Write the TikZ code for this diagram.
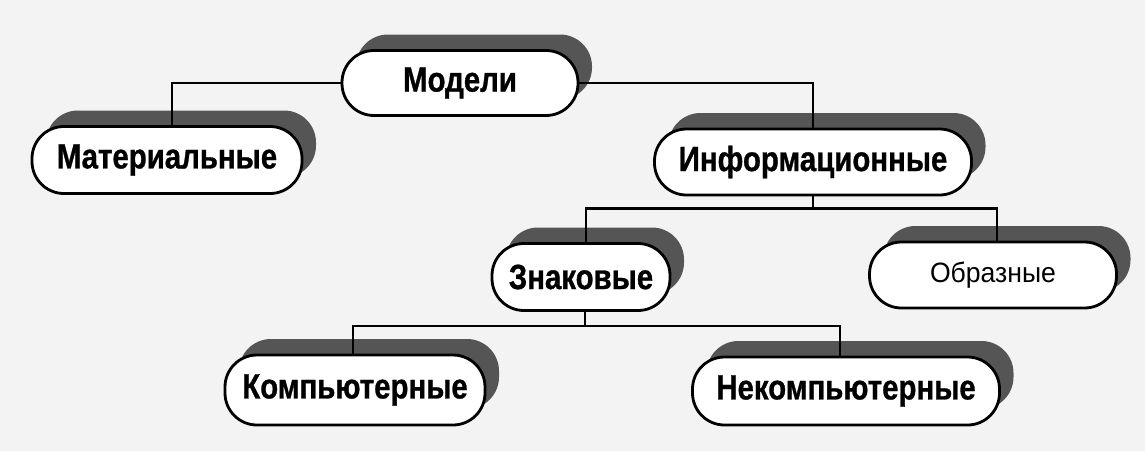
\documentclass[tikz,border=0pt]{standalone}
\usepackage{fontspec}
\setmainfont{Liberation Sans}
\newfontfamily\boxfont[FakeStretch=0.84,FakeBold=0.8]{Liberation Sans}
\newfontfamily\plainfont[FakeStretch=0.95]{Liberation Sans}
\usetikzlibrary{shadows,calc}
\definecolor{paper}{RGB}{243,243,243}
\definecolor{shade}{RGB}{85,85,85}
\tikzset{
  pill/.style={draw=black, line width=2.8pt, fill=white, rounded corners=32pt,
    inner sep=0pt, font=\boxfont\bfseries\fontsize{35}{40}\selectfont,
    general shadow={fill=shade, shadow xshift=14pt, shadow yshift=16pt}},
  plain/.style={font=\plainfont\mdseries\fontsize{28}{32}\selectfont},
  conn/.style={draw=black, line width=2.2pt}
}
\begin{document}
\begin{tikzpicture}[x=1pt,y=-1pt]
\fill[paper] (0,0) rectangle (1145,451);
\useasboundingbox (0,0) rectangle (1145,451);
\node[pill, minimum width=236pt, minimum height=65pt] (modeli) at (460,83) {Модели};
\node[pill, minimum width=270pt, minimum height=67pt] (mater) at (167,160) {Материальные};
\node[pill, minimum width=317pt, minimum height=66pt] (inform) at (813,162) {Информационные};
\node[pill, minimum width=178pt, minimum height=67pt] (znak) at (581,277) {Знаковые};
\node[pill, plain, minimum width=247pt, minimum height=66pt] (obraz) at (993,275) {Образные};
\node[pill, minimum width=260pt, minimum height=70pt] (komp) at (355,390) {Компьютерные};
\node[pill, minimum width=307pt, minimum height=68pt] (nekomp) at (846,391) {Некомпьютерные};
\coordinate (j1) at ($(inform.south)+(0,12)$);
\coordinate (j2) at ($(znak.south)+(4,14)$);
\draw[conn] (modeli.west) -| ([xshift=5pt]mater.north);
\draw[conn] (modeli.east) -| (inform.north);
\draw[conn] (inform.south) -- (j1);
\draw[conn] ([xshift=5pt]znak.north) |- (j1) -| ([xshift=4pt]obraz.north);
\draw[conn] ([xshift=4pt]znak.south) -- (j2);
\draw[conn] ([xshift=-2pt]komp.north) |- (j2) -| ([xshift=-6pt]nekomp.north);
\end{tikzpicture}
\end{document}
